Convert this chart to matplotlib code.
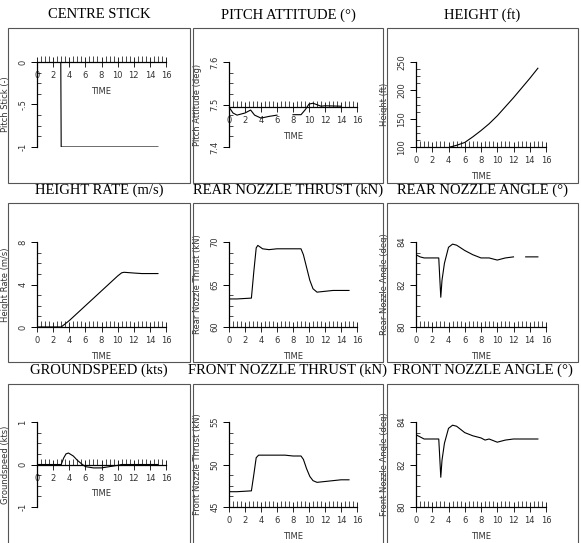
import numpy as np
import matplotlib
matplotlib.use('Agg')
import matplotlib.pyplot as plt
from matplotlib.patches import Rectangle
from matplotlib.ticker import MultipleLocator

W, H = 581, 543

# ---- data ----
titles = ['CENTRE STICK', 'PITCH ATTITUDE (°)', 'HEIGHT (ft)',
          'HEIGHT RATE (m/s)', 'REAR NOZZLE THRUST (kN)', 'REAR NOZZLE ANGLE (°)',
          'GROUNDSPEED (kts)', 'FRONT NOZZLE THRUST (kN)', 'FRONT NOZZLE ANGLE (°)']
ylabels = ['Pitch Stick (-)', 'Pitch Attitude (deg)', 'Height (ft)',
           'Height Rate (m/s)', 'Rear Nozzle Thrust (kN)', 'Rear Nozzle Angle (deg)',
           'Groundspeed (kts)', 'Front Nozzle Thrust (kN)', 'Front Nozzle Angle (deg)']

stick_t = [0, 2.95, 3.0, 15]
stick_v = [0, 0, -1.0, -1.0]

pitch_t = [0, 0.5, 1, 2, 2.7, 3.2, 4, 5, 6, 6.2, 7.8, 8, 9, 9.5, 10, 10.5, 11.5, 12, 14]
pitch_v = [7.494, 7.48, 7.475, 7.48, 7.487, 7.475, 7.468, 7.472, 7.475, np.nan, np.nan,
           7.476, 7.476, 7.487, 7.501, 7.503, 7.496, 7.497, 7.496]

height_t = [4.2, 5, 6, 7, 8, 9, 10, 11, 12, 13, 14, 15]
height_v = [100, 103, 108, 118, 129, 141, 155, 171, 187, 204, 221, 239]

hrate_t = [0, 3, 4, 5, 6, 7, 8, 9, 10, 10.5, 10.8, 12, 13, 15]
hrate_v = [0, 0, 0.6, 1.3, 2.0, 2.7, 3.4, 4.1, 4.8, 5.1, 5.15, 5.08, 5.03, 5.03]

rthrust_t = [0, 1, 2.8, 3.1, 3.4, 3.6, 4.2, 5, 6, 7, 8, 9, 9.3, 9.7, 10.1, 10.5, 11, 12, 13, 14, 15]
rthrust_v = [63.3, 63.3, 63.4, 66.5, 69.3, 69.6, 69.2, 69.1, 69.2, 69.2, 69.2, 69.2, 68.5,
             67.0, 65.5, 64.5, 64.1, 64.2, 64.3, 64.3, 64.3]

rangle_t = [0, 0.5, 1, 2, 2.8, 2.9, 3.05, 3.2, 3.5, 4, 4.5, 5, 6, 7, 8, 9, 10, 11, 12,
            12.3, 13.5, 15]
rangle_v = [83.4, 83.3, 83.25, 83.25, 83.25, 82.5, 81.4, 82.2, 83.0, 83.75, 83.9, 83.85,
            83.6, 83.4, 83.25, 83.25, 83.15, 83.25, 83.3, np.nan, 83.3, 83.3]

gspeed_t = [0, 3, 3.3, 3.6, 3.9, 4.5, 5, 5.5, 6, 7, 8, 9, 10, 10.5, 15]
gspeed_v = [0, 0, 0.15, 0.25, 0.27, 0.2, 0.1, 0.02, -0.05, -0.08, -0.08, -0.05, -0.02, 0, 0]

fthrust_t = [0, 1, 2.8, 3.1, 3.4, 3.7, 4.5, 6, 7, 8, 9, 9.3, 9.7, 10.1, 10.5, 11, 12, 13, 14, 15]
fthrust_v = [46.8, 46.8, 46.9, 48.8, 50.8, 51.1, 51.1, 51.1, 51.1, 51.0, 51.0, 50.6,
             49.5, 48.6, 48.1, 47.9, 48.0, 48.1, 48.2, 48.2]

fangle_t = [0, 0.5, 1, 2, 2.8, 2.9, 3.05, 3.2, 3.5, 4, 4.5, 5, 6, 7, 8, 8.5, 9, 10, 11, 12, 15]
fangle_v = [83.4, 83.3, 83.2, 83.2, 83.2, 82.5, 81.4, 82.2, 83.0, 83.7, 83.85, 83.8,
            83.5, 83.35, 83.25, 83.15, 83.2, 83.05, 83.15, 83.2, 83.2]

series = [(stick_t, stick_v), (pitch_t, pitch_v), (height_t, height_v),
          (hrate_t, hrate_v), (rthrust_t, rthrust_v), (rangle_t, rangle_v),
          (gspeed_t, gspeed_v), (fthrust_t, fthrust_v), (fangle_t, fangle_v)]

ylims = [(-1, 0), (7.4, 7.6), (100, 250), (0, 8), (60, 70), (80, 84), (-1, 1), (45, 55), (80, 84)]
yticks = [[-1, -0.5, 0], [7.4, 7.5, 7.6], [100, 150, 200, 250], [0, 4, 8], [60, 65, 70],
          [80, 82, 84], [-1, 0, 1], [45, 50, 55], [80, 82, 84]]
ytick_labels = [['-1', '-.5', '0'], ['7.4', '7.5', '7.6'], ['100', '150', '200', '250'],
                ['0', '4', '8'], ['60', '65', '70'], ['80', '82', '84'], ['-1', '0', '1'],
                ['45', '50', '55'], ['80', '82', '84']]
xaxis_at = [0, 7.495, 100, 0, 60, 80, 0, 45, 80]

# ---- layout in pixels ----
col_axes = [(37, 166), (229, 357), (416, 546)]
row_axes = [(62, 147), (242, 327), (422, 507)]
col_frames = [(8, 190), (193, 383), (387, 578)]
row_frames = [(28, 183), (203, 362), (384, 548)]
title_y = [15, 190, 370]

fig = plt.figure(figsize=(W / 100, H / 100), dpi=100)
fig.patch.set_facecolor('white')

for r in range(3):
    for c in range(3):
        x0, x1 = col_frames[c]
        y0, y1 = row_frames[r]
        fig.add_artist(Rectangle((x0 / W, 1 - y1 / H), (x1 - x0) / W, (y1 - y0) / H,
                                 transform=fig.transFigure, fill=False,
                                 edgecolor='#555555', linewidth=0.8))

for i in range(9):
    r, c = divmod(i, 3)
    l, rr = col_axes[c]
    t, b = row_axes[r]
    ax = fig.add_axes([l / W, 1 - b / H, (rr - l) / W, (b - t) / H])
    ax.set_facecolor('none')
    tt, vv = series[i]
    ax.plot(tt, vv, color='black', linewidth=0.8)
    ax.set_xlim(0, 16)
    ax.set_ylim(*ylims[i])
    for s in ['top', 'right']:
        ax.spines[s].set_visible(False)
    ax.spines['bottom'].set_position(('data', xaxis_at[i]))
    ax.spines['left'].set_linewidth(0.9)
    ax.spines['bottom'].set_linewidth(0.9)
    ax.set_xticks(range(0, 17, 2))
    ax.xaxis.set_minor_locator(MultipleLocator(0.5))
    ax.set_yticks(yticks[i])
    ax.set_yticklabels(ytick_labels[i])
    step = yticks[i][1] - yticks[i][0]
    ax.yaxis.set_minor_locator(MultipleLocator(step / 4))
    ax.tick_params(axis='x', which='major', direction='inout', length=7, width=0.6,
                   labelsize=6, labelcolor='#333333', pad=3)
    ax.tick_params(axis='x', which='minor', direction='in', length=4, width=0.5)
    ax.tick_params(axis='y', which='major', direction='out', length=4, width=0.7,
                   labelsize=6, labelcolor='#333333', labelrotation=90, pad=3)
    ax.tick_params(axis='y', which='minor', direction='in', length=3, width=0.5)
    for lab in ax.get_yticklabels():
        lab.set_va('center')
    ax.set_xlabel('TIME', fontsize=6, color='#333333', labelpad=5)
    ax.set_ylabel(ylabels[i], fontsize=6, color='#333333', labelpad=6)
    fig.text(((col_frames[c][0] + col_frames[c][1]) / 2) / W, 1 - title_y[r] / H, titles[i],
             ha='center', va='center', fontsize=10.5, family='Liberation Serif')

fig.savefig('out.png', dpi=100, facecolor='white')
